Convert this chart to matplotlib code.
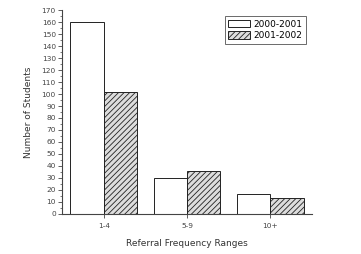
import matplotlib
matplotlib.use("Agg")
import matplotlib.pyplot as plt
import numpy as np
from matplotlib.ticker import MultipleLocator

categories = ["1-4", "5-9", "10+"]
series_2000 = [160, 30, 16]
series_2001 = [102, 36, 13]
labels = ["2000-2001", "2001-2002"]

plt.rcParams['hatch.color'] = '#666666'
plt.rcParams['hatch.linewidth'] = 0.6

fig = plt.figure(figsize=(3.61, 2.54), dpi=100)
ax = fig.add_axes([0.172, 0.159, 0.692, 0.800])

x = np.arange(1, len(categories) + 1)
w = 0.4
ax.bar(x - w / 2, series_2000, width=w, facecolor="white", edgecolor="#222222",
       linewidth=0.7, label=labels[0])
ax.bar(x + w / 2, series_2001, width=w, facecolor="#dddddd", edgecolor="#222222",
       linewidth=0.7, hatch="//////", label=labels[1])

ax.set_xlim(0.5, 3.5)
ax.set_ylim(0, 170)
ax.set_xticks(x)
ax.set_xticklabels(categories)
ax.yaxis.set_major_locator(MultipleLocator(10))
ax.yaxis.set_minor_locator(MultipleLocator(5))
ax.tick_params(axis="both", which="major", labelsize=5.3, length=3, width=0.6,
               color="#444444", labelcolor="#444444", pad=1.5)
ax.tick_params(axis="x", which="major", pad=4)
ax.tick_params(axis="y", which="minor", length=1.5, width=0.5, color="#444444")
for s in ["top", "right"]:
    ax.spines[s].set_visible(False)
for s in ["left", "bottom"]:
    ax.spines[s].set_color("#444444")
    ax.spines[s].set_linewidth(0.8)

ax.set_xlabel("Referral Frequency Ranges", fontsize=6.5, color="#333333", labelpad=7)
ax.set_ylabel("Number of Students", fontsize=6.5, color="#333333", labelpad=6)

leg = ax.legend(loc="upper right", bbox_to_anchor=(0.995, 0.995), fontsize=6.5,
                frameon=True, fancybox=False, edgecolor="#444444",
                handlelength=2.4, handleheight=0.9, borderpad=0.4,
                labelspacing=0.3, handletextpad=0.4)
leg.get_frame().set_linewidth(0.7)

fig.savefig("out.png", dpi=100)
